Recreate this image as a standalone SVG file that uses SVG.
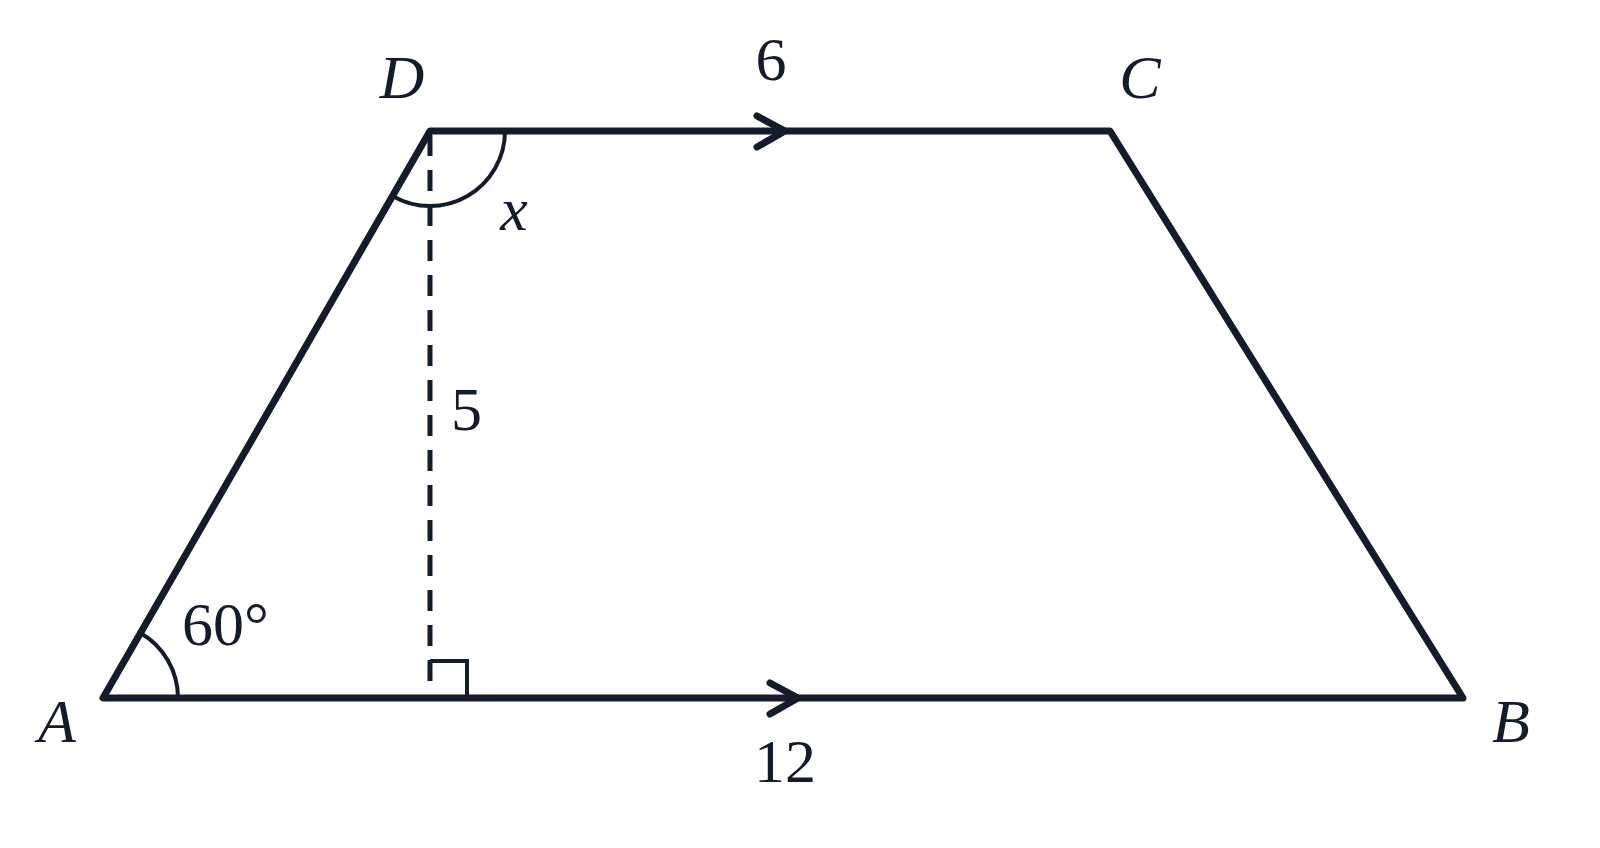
<svg xmlns="http://www.w3.org/2000/svg" width="1600" height="848" viewBox="0 0 1600 848">
<style>
.edge{fill:none;stroke:#141b2b;stroke-width:7;stroke-linecap:round;stroke-linejoin:round}
.thin{fill:none;stroke:#141b2b;stroke-width:4}
.dash{fill:none;stroke:#141b2b;stroke-width:5;stroke-dasharray:21,14}
.lbl{font-family:"Liberation Serif","Times New Roman",serif;font-size:62px;fill:#141b2b}
.it{font-style:italic}
</style>
<rect width="1600" height="848" fill="#ffffff"/>
<g id="connectors">
<path class="edge" d="M103,698 L1463,698 L1110,131 L430,131 Z"/>
<path class="edge" d="M757,116 L785,131 L757,147"/>
<path class="edge" d="M770,683 L798,698 L770,714"/>
<line class="dash" x1="430" y1="135" x2="430" y2="698"/>
<path class="thin" d="M505,131 A75,75 0 0 1 392.5,196"/>
<path class="thin" d="M178,698 A75,75 0 0 0 140.5,633"/>
<path class="thin" d="M430,661 L467,661 L467,698"/>
</g>
<g id="node-D"><text class="lbl it" x="402" y="98" text-anchor="middle">D</text></g>
<g id="node-C"><text class="lbl it" x="1140" y="98" text-anchor="middle">C</text></g>
<g id="node-A"><text class="lbl it" x="57" y="742" text-anchor="middle">A</text></g>
<g id="node-B"><text class="lbl it" x="1511" y="742" text-anchor="middle">B</text></g>
<g id="label-6"><text class="lbl" x="771" y="80" text-anchor="middle">6</text></g>
<g id="label-12"><text class="lbl" x="785" y="782" text-anchor="middle">12</text></g>
<g id="label-5"><text class="lbl" x="451" y="430">5</text></g>
<g id="label-x"><text class="lbl it" x="514" y="230" text-anchor="middle">x</text></g>
<g id="label-60"><text class="lbl" x="182" y="645">60°</text></g>
</svg>
